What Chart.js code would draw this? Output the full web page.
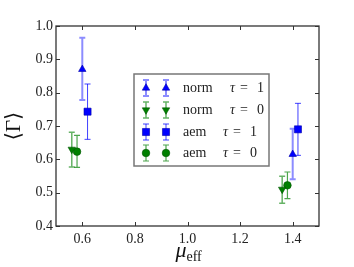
<!DOCTYPE html>
<html>
<head>
<meta charset="utf-8">
<script src="https://cdn.jsdelivr.net/npm/chart.js@4"></script>
<style>
  html, body { margin: 0; padding: 0; background: #fff; }
  #wrap { width: 354px; height: 267px; }
</style>
</head>
<body>
<div id="wrap"><canvas id="gammaChart" width="354" height="267"></canvas></div>
<script>
// data
const xTicks = [0.6, 0.8, 1.0, 1.2, 1.4];
const yTicks = [0.4, 0.5, 0.6, 0.7, 0.8, 0.9, 1.0];

const normTau1X = [0.60, 1.40];
const normTau1Y = [0.870, 0.615];
const normTau1Lo = [0.778, 0.540];
const normTau1Hi = [0.965, 0.692];

const normTau0X = [0.56, 1.36];
const normTau0Y = [0.630, 0.510];
const normTau0Lo = [0.577, 0.468];
const normTau0Hi = [0.681, 0.549];

const aemTau1X = [0.62, 1.42];
const aemTau1Y = [0.743, 0.690];
const aemTau1Lo = [0.660, 0.612];
const aemTau1Hi = [0.826, 0.768];

const aemTau0X = [0.58, 1.38];
const aemTau0Y = [0.623, 0.522];
const aemTau0Lo = [0.576, 0.482];
const aemTau0Hi = [0.672, 0.562];

const legendNames = ['norm', 'norm', 'aem', 'aem'];
const legendTau = ['1', '0', '1', '0'];

const BLUE = '#0000ff';
const GREEN = '#008000';
const SERIF = '"Liberation Serif", "DejaVu Serif", serif';

function pts(xs, ys) {
  return xs.map((x, i) => ({ x: x, y: ys[i] }));
}

const series = [
  { data: pts(normTau1X, normTau1Y), lo: normTau1Lo, hi: normTau1Hi, color: BLUE, edge: '#0000aa',
    style: 'triangle', rot: 0, r: 4.3, errColor: 'rgba(0,0,255,0.45)', errWidth: 2 },
  { data: pts(normTau0X, normTau0Y), lo: normTau0Lo, hi: normTau0Hi, color: GREEN, edge: '#005500',
    style: 'triangle', rot: 180, r: 4.3, errColor: 'rgba(0,128,0,0.6)', errWidth: 1.5 },
  { data: pts(aemTau1X, aemTau1Y), lo: aemTau1Lo, hi: aemTau1Hi, color: BLUE, edge: '#0000aa',
    style: 'rect', rot: 0, r: 5, errColor: 'rgba(0,0,255,0.75)', errWidth: 1 },
  { data: pts(aemTau0X, aemTau0Y), lo: aemTau0Lo, hi: aemTau0Hi, color: GREEN, edge: '#005500',
    style: 'circle', rot: 0, r: 3.8, errColor: 'rgba(0,128,0,0.7)', errWidth: 1.2 }
];

function errBar(ctx, x, yTop, yBot, s) {
  ctx.save();
  ctx.strokeStyle = s.errColor;
  ctx.lineWidth = s.errWidth;
  ctx.beginPath();
  ctx.moveTo(x, yTop); ctx.lineTo(x, yBot);
  ctx.moveTo(x - 3, yTop); ctx.lineTo(x + 3, yTop);
  ctx.moveTo(x - 3, yBot); ctx.lineTo(x + 3, yBot);
  ctx.stroke();
  ctx.restore();
}

const errorBars = {
  id: 'errorBars',
  beforeDatasetsDraw(chart) {
    const ctx = chart.ctx;
    const xs = chart.scales.x, ys = chart.scales.y;
    series.forEach(s => {
      s.data.forEach((p, i) => {
        errBar(ctx, xs.getPixelForValue(p.x), ys.getPixelForValue(s.hi[i]), ys.getPixelForValue(s.lo[i]), s);
      });
    });
  }
};

const frame = {
  id: 'frame',
  afterDraw(chart) {
    const ctx = chart.ctx;
    const a = chart.chartArea;
    const xs = chart.scales.x, ys = chart.scales.y;
    ctx.save();
    ctx.strokeStyle = '#333';
    ctx.lineWidth = 1;
    // inward ticks on all sides
    ctx.beginPath();
    xTicks.forEach(v => {
      const px = Math.round(xs.getPixelForValue(v)) + 0.5;
      ctx.moveTo(px, a.bottom); ctx.lineTo(px, a.bottom - 4);
      ctx.moveTo(px, a.top); ctx.lineTo(px, a.top + 4);
    });
    yTicks.forEach(v => {
      const py = Math.round(ys.getPixelForValue(v)) + 0.5;
      ctx.moveTo(a.left, py); ctx.lineTo(a.left + 4, py);
      ctx.moveTo(a.right, py); ctx.lineTo(a.right - 4, py);
    });
    ctx.stroke();
    ctx.lineWidth = 1.3;
    ctx.strokeRect(a.left, a.top, a.right - a.left, a.bottom - a.top);

    // axis titles
    ctx.fillStyle = '#111';
    ctx.textBaseline = 'alphabetic';
    ctx.font = 'italic 22px ' + SERIF;
    ctx.textAlign = 'left';
    const cx = (a.left + a.right) / 2;
    ctx.fillText('\u03bc', cx - 12, 257);
    ctx.font = '14px ' + SERIF;
    ctx.fillText('eff', cx - 1, 261);

    ctx.save();
    ctx.translate(20, (a.top + a.bottom) / 2);
    ctx.rotate(-Math.PI / 2);
    ctx.textAlign = 'center';
    ctx.font = '21px ' + SERIF;
    ctx.fillText('\u27e8\u0393\u27e9', 0, 0);
    ctx.restore();

    // legend
    const lx = 134, ly = 74, lw = 135, lh = 92;
    ctx.fillStyle = '#fff';
    ctx.fillRect(lx, ly, lw, lh);
    ctx.strokeStyle = '#777';
    ctx.lineWidth = 1.5;
    ctx.strokeRect(lx, ly, lw, lh);
    const rows = [88, 110, 132, 153];
    series.forEach((s, i) => {
      const y = rows[i];
      [146, 166].forEach(mx => {
        errBar(ctx, mx, y - 8, y + 8, s);
        ctx.save();
        ctx.fillStyle = s.color;
        ctx.strokeStyle = s.edge;
        ctx.lineWidth = 0.6;
        Chart.helpers.drawPoint(ctx, { pointStyle: s.style, rotation: s.rot, radius: s.r, borderWidth: 0.6 }, mx, y);
        ctx.restore();
      });
      ctx.fillStyle = '#222';
      ctx.textAlign = 'left';
      ctx.textBaseline = 'middle';
      ctx.font = '14px ' + SERIF;
      ctx.fillText(legendNames[i], 183, y);
      const tx = legendNames[i] === 'norm' ? 230 : 223;
      ctx.font = 'italic 14px ' + SERIF;
      ctx.fillText('\u03c4', tx, y);
      ctx.font = '14px ' + SERIF;
      ctx.fillText('=', tx + 10, y);
      ctx.fillText(legendTau[i], tx + 27, y);
    });
    ctx.restore();
  }
};

new Chart(document.getElementById('gammaChart'), {
  type: 'scatter',
  data: {
    datasets: series.map(s => ({
      data: s.data,
      backgroundColor: s.color,
      borderColor: s.edge,
      borderWidth: 0.6,
      pointStyle: s.style,
      rotation: s.rot,
      pointRadius: s.r,
      pointHoverRadius: s.r
    }))
  },
  options: {
    responsive: false,
    animation: false,
    events: [],
    layout: { padding: { top: 26, right: 35, left: 0, bottom: 0 } },
    plugins: { legend: { display: false }, tooltip: { enabled: false } },
    scales: {
      x: {
        type: 'linear', min: 0.5, max: 1.5,
        afterBuildTicks: sc => { sc.ticks = xTicks.map(v => ({ value: v })); },
        afterFit: sc => { sc.height = 41; },
        grid: { display: false, drawTicks: false },
        border: { display: false },
        ticks: { padding: 5, color: '#222', font: { family: SERIF, size: 14 }, maxRotation: 0,
          callback: v => v.toFixed(1) }
      },
      y: {
        type: 'linear', min: 0.4, max: 1.0,
        afterBuildTicks: sc => { sc.ticks = yTicks.map(v => ({ value: v })); },
        afterFit: sc => { sc.width = 56; },
        grid: { display: false, drawTicks: false },
        border: { display: false },
        ticks: { padding: 3, color: '#222', font: { family: SERIF, size: 14 },
          callback: v => v.toFixed(1) }
      }
    }
  },
  plugins: [errorBars, frame]
});
</script>
</body>
</html>
